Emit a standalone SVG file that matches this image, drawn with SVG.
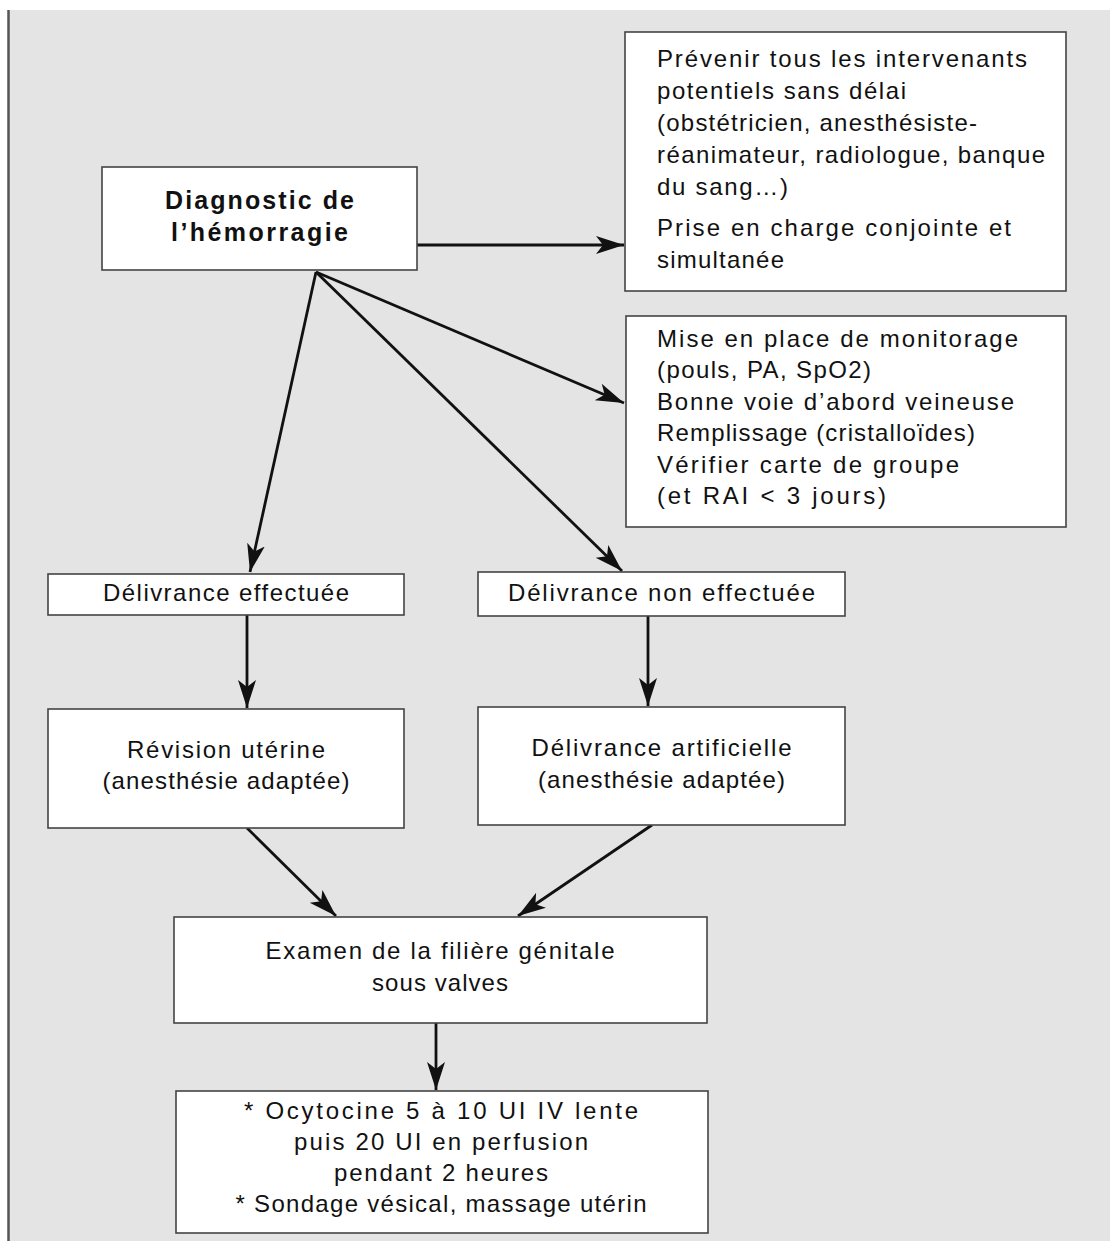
<svg xmlns="http://www.w3.org/2000/svg" width="1110" height="1241" viewBox="0 0 1110 1241">
<style>
.bg{fill:#e4e4e4}
.box{fill:#ffffff;stroke:#444;stroke-width:1.6}
.t{font-family:"Liberation Sans",Arial,sans-serif;font-size:24px;fill:#111}
.c{text-anchor:middle}
.b{font-weight:bold;font-size:25px}
.con line{stroke:#111;stroke-width:2.8;fill:none;marker-end:url(#ah)}
</style>
<defs>
<marker id="ah" markerUnits="userSpaceOnUse" markerWidth="30" markerHeight="20" refX="28" refY="9" orient="auto">
<path d="M0,0 L28,9 L0,18 L7,9 z" fill="#111"/>
</marker>
</defs>
<rect x="0" y="0" width="1110" height="1241" fill="#ffffff"/>
<rect class="bg" x="8" y="10" width="1102" height="1231"/>
<line x1="8.5" y1="10" x2="8.5" y2="1241" stroke="#555" stroke-width="2.5"/>

<g id="connectors" class="con">
<line x1="417" y1="245" x2="624" y2="245"/>
<line x1="316" y1="272" x2="624" y2="403"/>
<line x1="316" y1="272" x2="622" y2="571"/>
<line x1="316" y1="272" x2="250" y2="572"/>
<line x1="247" y1="615" x2="247" y2="708"/>
<line x1="648" y1="616" x2="648" y2="706"/>
<line x1="247" y1="828" x2="336" y2="916"/>
<line x1="652" y1="825" x2="518" y2="916"/>
<line x1="436" y1="1023" x2="436" y2="1090"/>
</g>

<g id="diagnostic">
<rect class="box" x="102" y="167" width="315" height="103"/>
<text class="t b c" x="259.5" y="209" textLength="189" lengthAdjust="spacing">Diagnostic de</text>
<text class="t b c" x="259.5" y="241" textLength="177" lengthAdjust="spacing">l’hémorragie</text>
</g>

<g id="prevenir">
<rect class="box" x="625" y="32" width="441" height="259"/>
<text class="t" x="657" y="67" textLength="370" lengthAdjust="spacing">Prévenir tous les intervenants</text>
<text class="t" x="657" y="99" textLength="249" lengthAdjust="spacing">potentiels sans délai</text>
<text class="t" x="657" y="131" textLength="320" lengthAdjust="spacing">(obstétricien, anesthésiste-</text>
<text class="t" x="657" y="163" textLength="388" lengthAdjust="spacing">réanimateur, radiologue, banque</text>
<text class="t" x="657" y="195" textLength="131" lengthAdjust="spacing">du sang…)</text>
<text class="t" x="657" y="236" textLength="354" lengthAdjust="spacing">Prise en charge conjointe et</text>
<text class="t" x="657" y="268" textLength="127" lengthAdjust="spacing">simultanée</text>
</g>

<g id="monitorage">
<rect class="box" x="626" y="316" width="440" height="211"/>
<text class="t" x="657" y="347" textLength="361" lengthAdjust="spacing">Mise en place de monitorage</text>
<text class="t" x="657" y="378" textLength="214" lengthAdjust="spacing">(pouls, PA, SpO2)</text>
<text class="t" x="657" y="410" textLength="357" lengthAdjust="spacing">Bonne voie d’abord veineuse</text>
<text class="t" x="657" y="441" textLength="318" lengthAdjust="spacing">Remplissage (cristalloïdes)</text>
<text class="t" x="657" y="473" textLength="302" lengthAdjust="spacing">Vérifier carte de groupe</text>
<text class="t" x="657" y="504" textLength="229" lengthAdjust="spacing">(et RAI &lt; 3 jours)</text>
</g>

<g id="delivrance-effectuee">
<rect class="box" x="48" y="574" width="356" height="41"/>
<text class="t c" x="226" y="601" textLength="246" lengthAdjust="spacing">Délivrance effectuée</text>
</g>

<g id="delivrance-non-effectuee">
<rect class="box" x="478" y="572" width="367" height="44"/>
<text class="t c" x="661.5" y="601" textLength="307" lengthAdjust="spacing">Délivrance non effectuée</text>
</g>

<g id="revision">
<rect class="box" x="48" y="709" width="356" height="119"/>
<text class="t c" x="226" y="758" textLength="198" lengthAdjust="spacing">Révision utérine</text>
<text class="t c" x="226" y="789" textLength="247" lengthAdjust="spacing">(anesthésie adaptée)</text>
</g>

<g id="delivrance-artificielle">
<rect class="box" x="478" y="707" width="367" height="118"/>
<text class="t c" x="661.5" y="756" textLength="260" lengthAdjust="spacing">Délivrance artificielle</text>
<text class="t c" x="661.5" y="788" textLength="247" lengthAdjust="spacing">(anesthésie adaptée)</text>
</g>

<g id="examen">
<rect class="box" x="174" y="917" width="533" height="106"/>
<text class="t c" x="440" y="959" textLength="349" lengthAdjust="spacing">Examen de la filière génitale</text>
<text class="t c" x="440" y="991" textLength="136" lengthAdjust="spacing">sous valves</text>
</g>

<g id="ocytocine">
<rect class="box" x="176" y="1091" width="532" height="142"/>
<text class="t c" x="441" y="1119" textLength="394" lengthAdjust="spacing">* Ocytocine 5 à 10 UI IV lente</text>
<text class="t c" x="441" y="1150" textLength="294" lengthAdjust="spacing">puis 20 UI en perfusion</text>
<text class="t c" x="441" y="1181" textLength="214" lengthAdjust="spacing">pendant 2 heures</text>
<text class="t c" x="441" y="1212" textLength="411" lengthAdjust="spacing">* Sondage vésical, massage utérin</text>
</g>
</svg>
